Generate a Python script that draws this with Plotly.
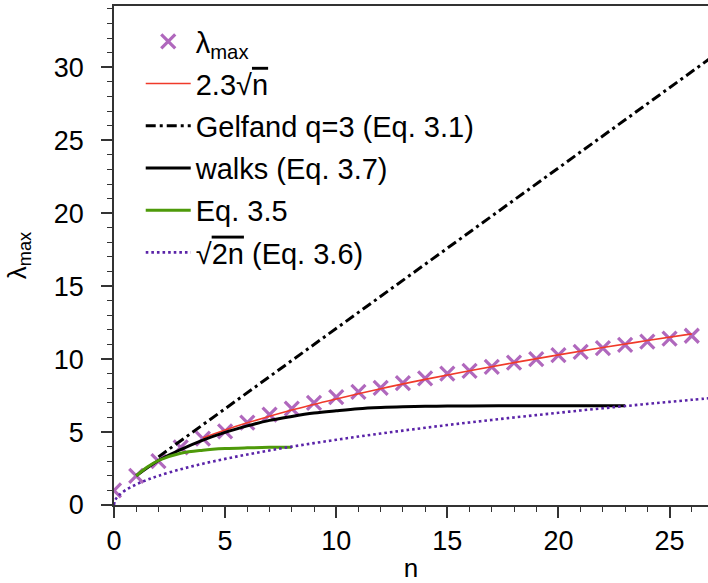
import plotly.graph_objects as go

# lambda_max data points
n_pts = list(range(0, 27))
lam_max = [1.0, 2.0, 3.0, 3.95, 4.55, 5.05, 5.65, 6.2, 6.6, 7.0, 7.4, 7.75, 8.03, 8.36,
           8.68, 9.0, 9.2, 9.47, 9.75, 10.0, 10.27, 10.5, 10.75, 10.98, 11.2, 11.4, 11.6]

# 2.3 sqrt(n) curve
n_fit = [4, 5, 6, 8, 10, 12, 14, 16, 18, 20, 22, 24, 26]
fit_vals = [4.6, 5.14, 5.63, 6.51, 7.27, 7.97, 8.61, 9.2, 9.76, 10.29, 10.79, 11.27, 11.73]

# Gelfand q=3 (Eq. 3.1)
n_gel = [2, 5, 10, 15, 20, 25, 27]
gel_vals = [3.3, 6.6, 12.1, 17.6, 23.1, 28.6, 30.8]

# walks (Eq. 3.7)
n_walk = [1, 2, 3, 4, 5, 6, 7, 8, 9, 10, 11, 12, 13, 14, 15, 16, 18, 20, 23]
walk_vals = [2.0, 3.05, 3.8, 4.45, 4.98, 5.42, 5.8, 6.07, 6.3, 6.46, 6.6, 6.68, 6.73,
             6.76, 6.78, 6.79, 6.8, 6.8, 6.8]

# Eq. 3.5
n_eq35 = [1, 1.5, 2, 3, 4, 5, 6, 7, 8]
eq35_vals = [2.0, 2.6, 3.05, 3.55, 3.76, 3.87, 3.92, 3.95, 3.96]

# sqrt(2n) (Eq. 3.6)
n_sq = [0, 0.05, 0.2, 0.5, 1, 1.5] + list(range(2, 28))
sq_vals = [0.0, 0.32, 0.63, 1.0, 1.41, 1.73, 2.0, 2.45, 2.83, 3.16, 3.46, 3.74, 4.0, 4.24,
           4.47, 4.69, 4.90, 5.10, 5.29, 5.48, 5.66, 5.83, 6.0, 6.16, 6.32, 6.48, 6.63,
           6.78, 6.93, 7.07, 7.21, 7.35]

FONT = "Liberation Sans, Arial, sans-serif"

fig = go.Figure()
fig.add_trace(go.Scatter(
    x=n_pts, y=lam_max, mode="markers", name="λ<sub>max</sub>", legendgroup="a",
    marker=dict(symbol="x-thin", size=14, line=dict(width=3.2, color="#b068bd"),
                color="#b068bd")))
fig.add_trace(go.Scatter(
    x=n_fit, y=fit_vals, mode="lines", legendgroup="b", line_shape="spline",
    name="2.3√<span style='text-decoration:overline'>n</span>",
    line=dict(color="#f03a2a", width=1.6)))
fig.add_trace(go.Scatter(
    x=n_gel, y=gel_vals, mode="lines", legendgroup="c",
    name="Gelfand q=3 (Eq. 3.1)",
    line=dict(color="black", width=3, dash="10px,4px,3px,4px")))
fig.add_trace(go.Scatter(
    x=n_walk, y=walk_vals, mode="lines", legendgroup="d", line_shape="spline",
    name="walks (Eq. 3.7)", line=dict(color="black", width=3)))
fig.add_trace(go.Scatter(
    x=n_eq35, y=eq35_vals, mode="lines", legendgroup="e", line_shape="spline",
    name="Eq. 3.5", line=dict(color="#4e9a0a", width=3)))
fig.add_trace(go.Scatter(
    x=n_sq, y=sq_vals, mode="lines", legendgroup="f", line_shape="spline",
    name="√<span style='text-decoration:overline'>2n</span> (Eq. 3.6)",
    line=dict(color="#5a23a8", width=2.6, dash="2.6px,3px")))

axis_common = dict(
    showgrid=False, zeroline=False, showline=True, linecolor="#333333", linewidth=1.5,
    ticks="outside", ticklen=11, tickwidth=1.5, tickcolor="#333333",
    tickfont=dict(family=FONT, size=27, color="black"),
)
fig.update_xaxes(
    **axis_common, range=[0, 26.73], tickvals=[0, 5, 10, 15, 20, 25], mirror=True,
    minor=dict(dtick=1, ticks="outside", ticklen=5, tickwidth=1.2, tickcolor="#333333"),
    title=dict(text="n", font=dict(family=FONT, size=26, color="black"), standoff=4))
fig.update_yaxes(
    **axis_common, range=[0, 34.2], tickvals=[0, 5, 10, 15, 20, 25, 30],
    ticklabelstandoff=12,
    minor=dict(dtick=1, ticks="outside", ticklen=5, tickwidth=1.2, tickcolor="#333333"),
    title=dict(text="λ<sub>max</sub>", font=dict(family=FONT, size=26, color="black"),
               standoff=20))

fig.update_layout(
    width=708, height=583,
    margin=dict(l=114, r=0, t=6, b=78),
    plot_bgcolor="white", paper_bgcolor="white",
    legend=dict(x=0.045, y=0.98, xanchor="left", yanchor="top",
                font=dict(family=FONT, size=29, color="black"),
                bgcolor="rgba(0,0,0,0)", tracegroupgap=1.5, itemwidth=45),
)

fig.write_html("out.html")
